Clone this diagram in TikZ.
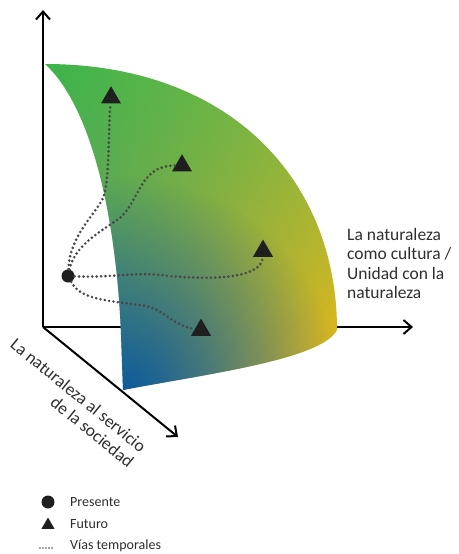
\documentclass[tikz,border=0pt]{standalone}
\usepackage{fontspec}
\setmainfont{Carlito}
\usepackage{tikz}
\usepackage{xcolor}
\usetikzlibrary{arrows.meta,shapes.geometric,shadings,fadings}
\definecolor{hojaverde}{HTML}{3AB54A}
\definecolor{hojaoliva}{HTML}{80B843}
\definecolor{hojabase}{HTML}{5C8E78}
\definecolor{hojaazul}{HTML}{0558A0}
\definecolor{hojaoro}{HTML}{F0B614}
\colorlet{marca}{black!88}
\colorlet{puntos}{black!72}
\tikzfading[name=azulfade, inner color=transparent!0, outer color=transparent!100]
\tikzstyle{eje} = [
    line width=2pt,
    -{Straight Barb[length=8pt,width=14pt,line width=2pt]}
    ]
\tikzstyle{presente} = [
    circle,
    fill=marca,
    inner sep=0pt,
    minimum size=13pt
    ]
\tikzstyle{futuro} = [
    regular polygon,
    regular polygon sides=3,
    fill=marca,
    inner sep=0pt,
    minimum size=23pt
    ]
\tikzstyle{via} = [
    draw=puntos,
    line width=2.9pt,
    line cap=round,
    dash pattern=on 0pt off 4.4pt
    ]
\tikzstyle{rotulo} = [
    font=\fontsize{17.5}{19.4}\selectfont,
    text=black!82,
    inner sep=0pt
    ]
\tikzstyle{leyenda} = [
    font=\fontsize{14}{16}\selectfont,
    text=black!82,
    anchor=west,
    inner sep=0pt
    ]

\begin{document}
\begin{tikzpicture}[x=1pt,y=-1pt]
\useasboundingbox (0,0) rectangle (458,554);

% ejes
\coordinate (o) at (43,327);
\coordinate (arriba) at (43,10);
\coordinate (derecha) at (413,327);
\coordinate (abajo) at (178,437);
\draw[eje] (o) -- (arriba);
\draw[eje] (o) -- (derecha);
\draw[eje] (o) -- (abajo);

% superficie
\begin{scope}
\clip (45,64) .. controls (230,64) and (337,180) .. (337,330)
    .. controls (322,360) and (200,375) .. (123,390)
    -- (121,335) .. controls (117,230) and (95,110) .. (45,64) -- cycle;
\shade[upper left=hojaverde, upper right=hojaoliva,
       lower left=hojabase, lower right=hojaoro]
    (40,60) rectangle (340,395);
\fill[hojaazul, path fading=azulfade] (118,400) circle (225);
\end{scope}

% presente y futuros
\node[presente] (hoy) at (68,276) {};
\node[futuro] (fut1) at (111,97.7) {};
\node[futuro] (fut2) at (182,165.7) {};
\node[futuro] (fut3) at (263,251) {};
\node[futuro] (fut4) at (201,330) {};

\draw[via] (hoy) .. controls (70,235) and (95,215) .. (103,198)
    .. controls (110,180) and (108,130) .. (fut1);
\draw[via] (hoy) .. controls (75,245) and (100,232) .. (120,218)
    .. controls (140,200) and (140,165) .. (fut2);
\draw[via] (hoy) .. controls (110,278) and (135,272) .. (160,275)
    .. controls (215,281) and (262,278) .. (fut3);
\draw[via] (hoy) .. controls (80,298) and (100,300) .. (140,305)
    .. controls (165,308) and (170,325) .. (fut4);

% rotulos de los ejes
\node[rotulo, anchor=north west, align=left] (cultura) at (347,228)
    {La naturaleza\\como cultura /\\Unidad con la\\naturaleza};
\node[rotulo, anchor=north west, align=right, rotate=-39.2] (servicio) at (17,337)
    {La naturaleza al servicio\\de la sociedad};

% leyenda
\node[presente] (leg1) at (48,502) {};
\node[futuro, minimum size=15pt] (leg2) at (48,525) {};
\coordinate (leg3a) at (40,548);
\coordinate (leg3b) at (54,548);
\draw[via, line width=1.8pt, dash pattern=on 0pt off 3pt] (leg3a) -- (leg3b);
\node[leyenda] (txt1) at (70,502) {Presente};
\node[leyenda] (txt2) at (70,524) {Futuro};
\node[leyenda] (txt3) at (70,546) {Vías temporales};
\end{tikzpicture}
\end{document}
